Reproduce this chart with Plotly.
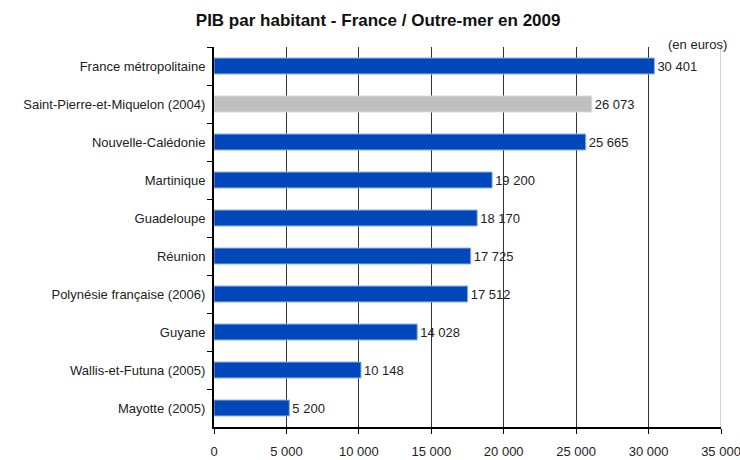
import plotly.graph_objects as go

territoires = ['France métropolitaine', 'Saint-Pierre-et-Miquelon (2004)', 'Nouvelle-Calédonie',
               'Martinique', 'Guadeloupe', 'Réunion', 'Polynésie française (2006)',
               'Guyane', 'Wallis-et-Futuna (2005)', 'Mayotte (2005)']
pib = [30401, 26073, 25665, 19200, 18170, 17725, 17512, 14028, 10148, 5200]
x_ticks = [0, 5000, 10000, 15000, 20000, 25000, 30000, 35000]

# couleur : gris pour la donnee 2004
couleurs = ['#BFBFBF' if '2004' in t else '#0047BB' for t in territoires]
bords = ['#D9D9D9' if '2004' in t else '#8FB0E8' for t in territoires]

police = 'Liberation Sans, Arial, sans-serif'

fig = go.Figure()
fig.add_trace(go.Bar(
    x=pib, y=territoires, orientation='h',
    marker=dict(color=couleurs, line=dict(color=bords, width=1)),
    width=0.42,
    text=pib, texttemplate='%{x:,d}', textposition='outside',
    textfont=dict(size=13, color='#222222', family=police),
    cliponaxis=False,
))

fig.add_vline(x=35000, line=dict(color='#C8C8C8', width=1.5), layer='above')

fig.update_layout(
    width=740, height=460,
    separators=', ',
    paper_bgcolor='white', plot_bgcolor='white',
    margin=dict(l=214, r=19, t=47, b=33, autoexpand=False),
    title=dict(text='<b>PIB par habitant - France / Outre-mer en 2009</b>',
               x=0.511, xanchor='center', y=0.957, yanchor='middle',
               font=dict(size=17, color='#111111', family=police)),
    font=dict(family=police, size=13, color='#222222'),
    showlegend=False,
    xaxis=dict(range=[0, 35000], tickvals=x_ticks, tickformat=',d',
               showgrid=True, gridcolor='#333333', gridwidth=1,
               showline=True, linecolor='black', linewidth=2,
               ticks='outside', ticklen=5, tickcolor='black',
               ticklabelstandoff=6, ticklabeloverflow='allow',
               zeroline=False, automargin=False,
               tickfont=dict(size=13, family=police)),
    yaxis=dict(autorange='reversed', showline=True, linecolor='black', linewidth=2,
               ticks='outside', tickson='boundaries', ticklen=5, tickcolor='black',
               showgrid=False, ticklabelstandoff=4, automargin=False,
               tickfont=dict(size=13, family=police)),
)

fig.add_annotation(text='(en euros)', xref='paper', yref='paper', x=1.0, y=1.0,
                   xanchor='right', yanchor='middle', xshift=8, yshift=3, showarrow=False,
                   font=dict(size=13, family=police, color='#222222'))

# pas de marge autour de la figure dans la page, pas de barre d'outils
fig.write_html('out.html', config={'displayModeBar': False},
               post_script="document.body.style.margin='0';")
